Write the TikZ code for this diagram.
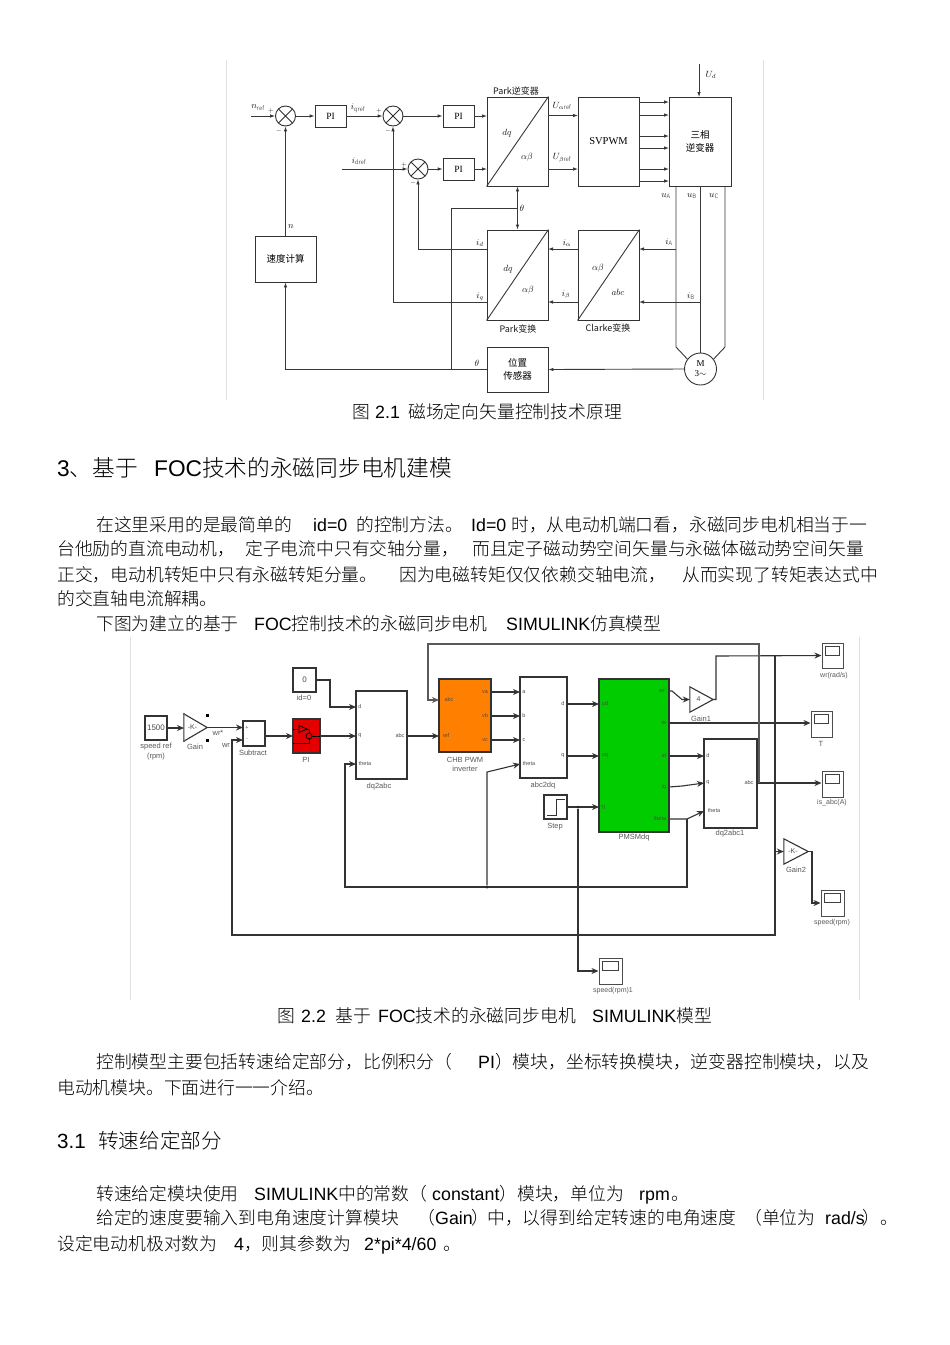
\documentclass[tikz,border=0pt]{standalone}
\usepackage{fontspec}
\setmainfont{Noto Sans CJK SC Light}
\newfontfamily\lat{Liberation Sans}
\newfontfamily\ser{Liberation Serif}
\newfontfamily\cjkr{Noto Sans CJK SC}
\usetikzlibrary{arrows.meta,calc}
\newcounter{tc}
\newcommand\bodyf{\fontsize{17.8}{20}\selectfont}
\newcommand\seg[4][]{\stepcounter{tc}\node[txt,#1] (t\arabic{tc}) at (#2,#3) {#4};}
\newcommand\lab[4][]{\stepcounter{tc}\node[lbl,#1] (l\arabic{tc}) at (#2,#3) {#4};}
\newcommand\pt[3]{\coordinate (#1) at (#2,#3);}
\newcommand\bk[7][]{\node[box,#1,minimum width={(#5-#3)*1pt},minimum height={(#6-#4)*1pt}] (#2) at ({(#3+#5)/2},{(#4+#6)/2}) {#7};}
\newcommand\gainblk[6]{\node[inner sep=0,minimum width={(#3-#2)*1pt},minimum height={(#5-#4)*1pt},font=\lat\fontsize{7}{8}\selectfont,text=black!70] (#1) at ({(#2+#3)/2},{(#4+#5)/2}) {\hspace{-6pt}#6};
\draw[sw,line width=1.1pt] (#1.north west) -- (#1.east) -- (#1.south west) -- cycle;}
\newcommand\simscope[5]{\node[box,draw=black!70,line width=1pt,minimum width={(#4-#2)*1pt},minimum height={(#5-#3)*1pt}] (#1) at ({(#2+#4)/2},{(#3+#5)/2}) {};
\draw[black!75,line width=.9pt] ({#2+3.5},{#3+3.5}) rectangle ({#4-3.5},{#3+12});}
\tikzset{
  txt/.style={anchor=base west,inner sep=0,font=\bodyf,text=black},
  lbl/.style={inner sep=0,font=\ser\fontsize{9}{10}\selectfont,text=black!90},
  slb/.style={font=\lat\fontsize{7.5}{8.5}\selectfont,text=black!65},
  plb/.style={font=\lat\fontsize{5.5}{6}\selectfont,text=black!70},
  box/.style={draw=black!80,line width=.9pt,fill=white,inner sep=0,align=center},
  sumj/.style={circle,draw=black!80,line width=.9pt,minimum size=20pt,inner sep=0,fill=white,
    path picture={\draw[black!80,line width=.9pt] (path picture bounding box.south west) -- (path picture bounding box.north east)
      (path picture bounding box.north west) -- (path picture bounding box.south east);}},
  wr/.style={draw=black!78,line width=.9pt},
  ar/.style={wr,-{Latex[length=5pt,width=3.6pt]}},
  sw/.style={draw=black!80,line width=1.1pt},
  sa/.style={sw,-{Stealth[length=7pt,width=6pt]}},
  dotj/.style={circle,fill=black!85,inner sep=0,minimum size=3pt},
  frm/.style={draw=black!12,line width=.8pt},
  cjklb/.style={font=\cjkr\fontsize{9}{10}\selectfont}
}
\begin{document}
\begin{tikzpicture}[x=1pt,y=-1pt]
\useasboundingbox[fill=white] (0,0) rectangle (950,1345);
% ---------- frame lines
\pt{f1a}{226}{60}\pt{f1b}{226}{400}\pt{f2a}{763}{60}\pt{f2b}{763}{400}
\pt{f3a}{130}{637}\pt{f3b}{130}{1000}\pt{f4a}{859}{637}\pt{f4b}{859}{1000}
\draw[frm] (f1a)--(f1b) (f2a)--(f2b) (f3a)--(f3b) (f4a)--(f4b);
% ---------- FOC diagram blocks
\node[sumj] (s1) at (285.5,116) {};
\node[sumj] (s2) at (393,116) {};
\node[sumj] (s3) at (418,169) {};
\bk[font=\ser\fontsize{9.5}{10}\selectfont]{pi1}{315}{105}{346}{127}{PI}
\bk[font=\ser\fontsize{9.5}{10}\selectfont]{pi2}{443}{105}{474}{127}{PI}
\bk[font=\ser\fontsize{9.5}{10}\selectfont]{pi3}{443}{158}{474}{180}{PI}
\bk{pki}{487}{97}{548}{186}{}
\bk[font=\ser\fontsize{10.5}{11}\selectfont]{svp}{578}{97}{639}{186}{SVPWM}
\bk[font=\cjkr\fontsize{9.5}{13}\selectfont]{inv}{669}{97}{731}{186}{三相\\逆变器}
\bk{pk}{487}{230}{548}{320}{}
\bk{clk}{578}{230}{639}{320}{}
\bk[font=\cjkr\fontsize{9.5}{13}\selectfont]{sen}{487}{347}{548}{392}{位置\\传感器}
\bk[font=\cjkr\fontsize{9.5}{12}\selectfont]{spd}{255}{236}{316}{282}{速度计算}
\node[circle,draw=black!80,line width=.9pt,minimum size=32pt,inner sep=0,fill=white,align=center,font=\ser\fontsize{9}{10}\selectfont] (mot) at (700.5,369) {M\\3$\sim$};
\draw[wr] (pki.south west) -- (pki.north east);
\draw[wr] (pk.south west) -- (pk.north east);
\draw[wr] (clk.south west) -- (clk.north east);
% FOC connectors
\pt{nin}{251}{116}\pt{idin}{342}{169}
\draw[ar] (nin) -- (s1.west);
\draw[ar] (s1.east) -- (pi1.west);
\draw[ar] (pi1.east) -- (s2.west);
\draw[ar] (s2.east) -- (pi2.west);
\draw[ar] (idin) -- (s3.west);
\draw[ar] (s3.east) -- (pi3.west);
\pt{pa}{487}{116}\pt{pb}{487}{169}
\draw[ar] (pi2.east) -- (pa);
\draw[ar] (pi3.east) -- (pb);
\pt{pc}{548}{115.5}\pt{pd}{578}{115.5}\pt{pe}{548}{169}\pt{pf}{578}{169}
\draw[ar] (pc) -- (pd);
\draw[ar] (pe) -- (pf);
\foreach \yy [count=\i] in {102,115,136,148,169,181}{
  \coordinate (sv\i) at (639,\yy); \coordinate (iv\i) at (669,\yy);
  \draw[ar] (sv\i) -- (iv\i);}
\pt{ud}{699}{64}\pt{udb}{699}{97}
\draw[ar] (ud) -- (udb);
\pt{th}{517.5}{208}\pt{thl}{451}{208}
\draw[ar] (th) -- (pki.south);
\draw[ar] (th) -- (pk.north);
\draw[wr] (th) -- (thl) -- (sen.west -| thl);
\draw[ar] (sen.west) -| (spd.south);
\draw[ar] (spd.north) -- (s1.south);
\pt{pkq}{487}{302}\pt{pkd}{487}{249}
\draw[ar] (pkq) -| (s2.south);
\draw[ar] (pkd) -| (s3.south);
\pt{ck1}{578}{249}\pt{pk1}{548}{249}\pt{ck2}{578}{302}\pt{pk2}{548}{302}
\draw[ar] (ck1) -- (pk1);
\draw[ar] (ck2) -- (pk2);
\pt{ua}{676}{186}\pt{ua2}{676}{347}\pt{uc}{725}{186}\pt{uc2}{725}{347}\pt{ub}{700.5}{186}
\draw[wr] (ua) -- (ua2) -- (mot.143);
\draw[wr] (uc) -- (uc2) -- (mot.37);
\draw[wr] (ub) -- (mot.north);
\pt{ia}{676}{249}\pt{ica}{639}{249}\pt{ib}{700.5}{302}\pt{icb}{639}{302}
\draw[ar] (ia) -- (ica);
\draw[ar] (ib) -- (icb);
\draw[ar] (mot.west) -- (sen.east);
% FOC labels
\lab{258}{107.5}{$n_{\mathit{ref}}$}
\lab{271}{111}{$\scriptstyle +$}\lab{279}{131}{$\scriptstyle -$}
\lab{358}{108}{$i_{\mathit{qref}}$}
\lab{379}{111}{$\scriptstyle +$}\lab{388}{131}{$\scriptstyle -$}
\lab{359}{161}{$i_{\mathit{dref}}$}
\lab{404}{165}{$\scriptstyle +$}\lab{413}{183}{$\scriptstyle -$}
\lab{291}{227}{$n$}
\lab[cjklb]{516}{91}{Park逆变器}
\lab{507}{133}{$dq$}\lab{527}{157}{$\alpha\beta$}
\lab{562}{106}{$U_{\alpha\mathit{ref}}$}\lab{562}{158}{$U_{\beta\mathit{ref}}$}
\lab{711}{75}{$U_{d}$}
\lab{666}{196}{$u_{\mathrm A}$}\lab{692}{196}{$u_{\mathrm B}$}\lab{714}{196}{$u_{\mathrm C}$}
\lab{522}{208}{$\theta$}
\lab{480}{243}{$i_{d}$}\lab{480}{297}{$i_{q}$}
\lab{567}{243}{$i_{\alpha}$}\lab{566}{295}{$i_{\beta}$}
\lab{669}{242}{$i_{\mathrm A}$}\lab{691}{296}{$i_{\mathrm B}$}
\lab{477}{363}{$\theta$}
\lab{508}{269}{$dq$}\lab{528}{290}{$\alpha\beta$}
\lab{598}{268}{$\alpha\beta$}\lab{618}{292}{$abc$}
\lab[cjklb]{518}{329}{Park变换}
\lab[cjklb]{608}{328}{Clarke变换}
% ---------- page text
\seg{352}{418}{图}\seg{375}{418}{\lat 2.1}\seg{408}{418}{磁场定向矢量控制技术原理}
\seg[font=\fontsize{22.7}{25}\selectfont]{57}{476}{{\lat 3}、基于}
\seg[font=\fontsize{22.7}{25}\selectfont]{154}{476}{{\lat FOC}技术的永磁同步电机建模}
\seg{96}{531}{在这里采用的是最简单的}\seg{313}{531}{\lat id=0}\seg{356}{531}{的控制方法。}\seg{471}{531}{\lat Id=0}\seg{511}{531}{时，从电动机端口看，永磁同步电机相当于一}
\seg{57}{555.5}{台他励的直流电动机，}\seg{245}{555.5}{定子电流中只有交轴分量，}\seg{472}{555.5}{而且定子磁动势空间矢量与永磁体磁动势空间矢量}
\seg{57}{581}{正交，电动机转矩中只有永磁转矩分量。}\seg{399}{581}{因为电磁转矩仅仅依赖交轴电流，}\seg{682}{581}{从而实现了转矩表达式中}
\seg{57}{605.5}{的交直轴电流解耦。}
\seg{96}{630}{下图为建立的基于}\seg{254}{630}{{\lat FOC}控制技术的永磁同步电机}\seg{506}{630}{{\lat SIMULINK}仿真模型}
\seg{277}{1022}{图}\seg{301}{1022}{\lat 2.2}\seg{335}{1022}{基于}\seg{378}{1022}{{\lat FOC}技术的永磁同步电机}\seg{592}{1022}{{\lat SIMULINK}模型}
\seg{96}{1068}{控制模型主要包括转速给定部分，比例积分（}\seg{478}{1068}{{\lat PI}）模块，坐标转换模块，逆变器控制模块，以及}
\seg{57}{1094}{电动机模块。下面进行一一介绍。}
\seg[font=\fontsize{20.6}{23}\selectfont]{57}{1148}{\lat 3.1}\seg[font=\fontsize{20.6}{23}\selectfont]{98}{1148}{转速给定部分}
\seg{96}{1200}{转速给定模块使用}\seg{254}{1200}{{\lat SIMULINK}中的常数（}\seg{432}{1200}{{\lat constant}）模块，单位为}\seg{639}{1200}{{\lat rpm}\kern1.5pt 。}
\seg{96}{1224}{给定的速度要输入到电角速度计算模块}\seg{417}{1224}{（}\seg{435}{1224}{\lat Gain}\seg{471}{1224}{）}\seg{487}{1224}{中，以得到给定转速的电角速度}\seg{744}{1224}{（单位为}\seg{825}{1224}{\lat rad/s}\seg{862}{1224}{）。}
\seg{57}{1250}{设定电动机极对数为}\seg{234}{1250}{{\lat 4}，则其参数为}\seg{364}{1250}{\lat 2*pi*4/60}\seg{443}{1250}{。}
% ---------- Simulink blocks
\bk[sw,font=\lat\fontsize{8}{9}\selectfont,text=black!70]{cst}{145}{716}{167}{740}{1500}
\bk[sw,font=\lat\fontsize{8}{9}\selectfont,text=black!70]{idz}{293}{668}{316}{692}{0}
\gainblk{gn}{184}{207}{714}{741}{-K-}
\bk[sw]{sub}{243}{721}{265}{746}{}
\bk[sw,fill={rgb,255:red,228;green,0;blue,0}]{pir}{293}{719}{320}{753}{}
\bk[sw]{dqa}{356}{691}{407}{779}{}
\bk[sw,fill={rgb,255:red,255;green,128;blue,0}]{chb}{439}{679}{491}{752}{}
\bk[sw]{adq}{520}{677}{567}{778}{}
\bk[sw]{stp}{544}{795}{567}{819}{}
\bk[sw,fill={rgb,255:red,0;green,204;blue,0}]{pm}{599}{679}{669}{832}{}
\bk[sw]{dq1}{704}{739}{757}{828}{}
\gainblk{g1}{690}{713}{687}{712}{4}
\gainblk{g2}{784}{808}{839}{864}{-K-}
\simscope{sc1}{822}{643}{843}{668}
\simscope{sc2}{811}{711}{832}{737}
\simscope{sc3}{822}{771}{843}{797}
\simscope{sc4}{821}{890}{844}{916}
\simscope{sc5}{599}{958}{622}{984}
% handles on selected gain
\foreach \hx/\hy [count=\i] in {207/715,207/740}{\node[fill=black,inner sep=0,minimum size=3pt] (hd\i) at (\hx,\hy) {};}
\foreach \hx/\hy [count=\i] in {184/714,184/741}{\node[fill=black!60,inner sep=0,minimum size=2.5pt] (hg\i) at (\hx,\hy) {};}
% PI internals
\pt{pi1a}{299}{725.5}\pt{pi1b}{299}{732.5}\pt{pi1c}{307}{729}\pt{pi1l}{293}{729}\pt{pi1r}{320}{736}\pt{pi1m}{309}{729}\pt{pi1n}{293}{743}\pt{pi1o}{309}{743}
\node[circle,draw=black,line width=.8pt,minimum size=6pt,inner sep=0] (pic) at (309,736) {};
\draw[black,line width=.8pt] (pi1a) -- (pi1c) -- (pi1b) -- cycle;
\draw[black,line width=.8pt] (pi1l) -- (pi1a |- pi1l) (pi1c) -- (pi1m) -- (pic.north) (pi1n) -- (pi1o) -- (pic.south) (pic.east) -- (pi1r);
% Step icon
\pt{st1}{547}{815}\pt{st2}{556}{815}\pt{st3}{556}{799}\pt{st4}{565}{799}
\draw[black!80,line width=1pt] (st1) -- (st2) -- (st3) -- (st4);
% Simulink connectors
\pt{g0}{184}{728}\draw[sa] (cst.east) -- (g0);
\pt{s0}{243}{727.5}\draw[sa] (gn.east) -- (s0);
\pt{pq}{356}{736}\draw[sa] (pir.east) -- (pq);
\pt{pr}{293}{736}\pt{sr}{265}{736}\draw[sa] (sr) -- (pr);
\pt{id1}{330}{680}\pt{id2}{330}{707}\pt{id3}{356}{707}
\draw[sa] (idz.east) -- (id1 |- idz.east) -- (id2) -- (id3);
\pt{ca}{407}{736}\pt{cb}{439}{736}\draw[sa] (ca) -- (cb);
\foreach \yy/\zz [count=\i] in {692/a,716/b,740/c}{\coordinate (cv\i) at (491,\yy);\coordinate (av\i) at (520,\yy);\draw[sa] (cv\i) -- (av\i);}
\pt{au}{567}{704}\pt{pu}{599}{704}\pt{aq}{567}{756}\pt{pv}{599}{756}
\draw[sa] (au) -- (pu);
\draw[sa] (aq) -- (pv);
\pt{pt}{599}{807}\pt{sj}{578}{807}\pt{sk}{578}{971}\pt{se}{567}{807}
\draw[sa] (se) -- (pt);
\node[dotj] (dj1) at (sj) {};
\draw[sa] (dj1) -- (sk) -- (sk -| sc5.west);
\pt{ow}{669}{691}\pt{ow1}{672}{691}\pt{ow2}{682}{699.5}
\draw[sa] (ow) -- (ow1) -- (ow2) -- (g1.west);
\pt{gt}{716}{699.5}\pt{gu}{716}{656}
\draw[sa] (g1.east) -- (gt) -- (gu) -- (sc1.west);
\pt{ote}{669}{723}\draw[sa] (ote) -- (sc2.west |- ote);
\pt{oid}{669}{756}\pt{dd}{704}{756}\draw[sa] (oid) -- (dd);
\pt{oiq}{669}{787}\pt{oiq2}{682}{786}\pt{dq}{704}{783}\draw[sa] (oiq) -- (oiq2) -- (dq);
\pt{oth}{669}{819}\pt{oth2}{687}{819}\pt{dt}{704}{811}\draw[sa] (oth) -- (oth2) -- (dt);
\pt{thb}{687}{887}\pt{thc}{345}{887}\pt{thd}{345}{764}\pt{the}{356}{764}
\draw[sa] (oth2) -- (thb) -- (thc) -- (thd) -- (the);
\node[dotj] (dj2) at (487,887) {};
\pt{ab1}{487}{772}\pt{ab2}{520}{764}
\draw[sa] (dj2) -- (ab1) -- (ab2);
\pt{dab}{757}{783}\pt{dj3}{759}{783}\pt{top1}{759}{644}\pt{top2}{428}{644}\pt{top3}{428}{700}\pt{top4}{439}{700}
\draw[sa] (dab) -- (sc3.west |- dab);
\draw[sa,draw=black!65,line width=1.3pt] (dj3) -- (top1) -- (top2) -- (top3) -- (top4);
\pt{v1}{775}{656}\pt{v2}{775}{935}\pt{v3}{232}{935}\pt{v4}{232}{740}\pt{v5}{243}{740}
\draw[sa] (v1) -- (v2) -- (v3) -- (v4) -- (v5);
\draw[sa] (v1 |- g2.west) -- (g2.west);
\pt{g2a}{812}{851.5}\pt{g2b}{812}{903}
\draw[sa] (g2.east) -- (g2a) -- (g2b) -- (sc4.west);
% Simulink labels
\lab[slb]{156}{747}{speed ref}\lab[slb]{156}{757}{(rpm)}
\lab[slb]{195}{747}{Gain}
\lab[slb]{218}{733}{wr*}\lab[slb]{226}{745}{wr}
\lab[plb]{247}{728}{+}\lab[plb]{247}{740}{-}
\lab[slb]{253}{753}{Subtract}
\lab[slb]{306}{760}{PI}
\lab[slb]{304}{698}{id=0}
\lab[slb]{379}{787}{dq2abc}
\lab[plb]{360}{707}{d}\lab[plb]{360}{736}{q}\lab[plb]{365}{764}{theta}\lab[plb]{400}{736}{abc}
\lab[plb]{449}{700}{abc}\lab[plb]{446}{736}{ref}\lab[plb]{485}{692}{va}\lab[plb]{485}{716}{vb}\lab[plb]{485}{740}{vc}
\lab[slb]{465}{760}{CHB PWM}\lab[slb]{465}{769}{inverter}
\lab[plb]{524}{692}{a}\lab[plb]{524}{716}{b}\lab[plb]{524}{740}{c}\lab[plb]{529}{764}{theta}\lab[plb]{563}{704}{d}\lab[plb]{563}{756}{q}
\lab[slb]{543}{786}{abc2dq}
\lab[slb]{555}{827}{Step}
\lab[plb]{605}{704}{ud}\lab[plb]{605}{756}{uq}\lab[plb]{603}{807}{Tl}
\lab[plb]{662}{691}{wr}\lab[plb]{664}{723}{te}\lab[plb]{664}{756}{id}\lab[plb]{664}{787}{iq}\lab[plb]{660}{819}{theta}
\lab[slb]{634}{838}{PMSMdq}
\lab[slb]{701}{719}{Gain1}
\lab[plb]{708}{756}{d}\lab[plb]{708}{783}{q}\lab[plb]{714}{811}{theta}\lab[plb]{749}{783}{abc}
\lab[slb]{730}{834}{dq2abc1}
\lab[slb,font=\lat\fontsize{7}{8}\selectfont]{834}{676}{wr(rad/s)}
\lab[slb]{821}{744}{T}
\lab[slb,font=\lat\fontsize{7}{8}\selectfont]{832}{803}{is\_abc(A)}
\lab[slb]{796}{870}{Gain2}
\lab[slb,font=\lat\fontsize{7}{8}\selectfont]{832}{923}{speed(rpm)}
\lab[slb,font=\lat\fontsize{7}{8}\selectfont]{613}{991}{speed(rpm)1}
\end{tikzpicture}
\end{document}
